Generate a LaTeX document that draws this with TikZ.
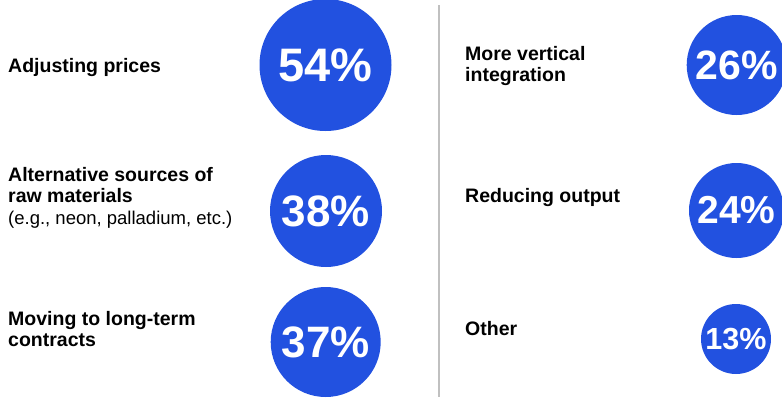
\documentclass[tikz,border=0pt]{standalone}
\usepackage{fontspec}
\setmainfont{Liberation Sans}
\definecolor{dotblue}{HTML}{2251E0}
\definecolor{divgray}{HTML}{C0C0C0}
\begin{document}
\begin{tikzpicture}[x=1pt,y=-1pt,
  label/.style={anchor=base west,inner sep=0pt,align=left,font=\fontsize{19.5}{21.6}\selectfont\bfseries},
  dot/.style={circle,fill=dotblue,inner sep=0pt,text=white,font=\bfseries}]
\useasboundingbox (0,0) rectangle (782,397);
\draw[divgray,line width=2pt] (438.7,5) coordinate (dtop) -- (438.7,397) coordinate (dbot);
% left column (base anchor = baseline of last line)
\node[label] (l1) at (8,72) {Adjusting prices};
\node[label] (l2) at (8,224.5) {Alternative sources of\\raw materials\\{\mdseries\fontsize{18.5}{21.3}\selectfont (e.g., neon, palladium, etc.)}};
\node[label] (l3) at (8,346.7) {Moving to long-term\\contracts};
\node[dot,minimum size=132pt,font=\fontsize{47}{47}\selectfont\bfseries] (c1) at (325.5,65) {54\%};
\node[dot,minimum size=112pt,font=\fontsize{44}{44}\selectfont\bfseries] (c2) at (326,211) {38\%};
\node[dot,minimum size=110pt,font=\fontsize{44}{44}\selectfont\bfseries] (c3) at (325.7,342) {37\%};
% right column
\node[label] (r1) at (465,81.7) {More vertical\\integration};
\node[label] (r2) at (465,202.3) {Reducing output};
\node[label] (r3) at (465,335) {Other};
\node[dot,minimum size=100pt,font=\fontsize{41}{41}\selectfont\bfseries] (c4) at (736.7,65) {26\%};
\node[dot,minimum size=95pt,font=\fontsize{39}{39}\selectfont\bfseries] (c5) at (736.5,210.5) {24\%};
\node[dot,minimum size=70pt,font=\fontsize{30.5}{30.5}\selectfont\bfseries] (c6) at (736,339) {13\%};
\end{tikzpicture}
\end{document}
